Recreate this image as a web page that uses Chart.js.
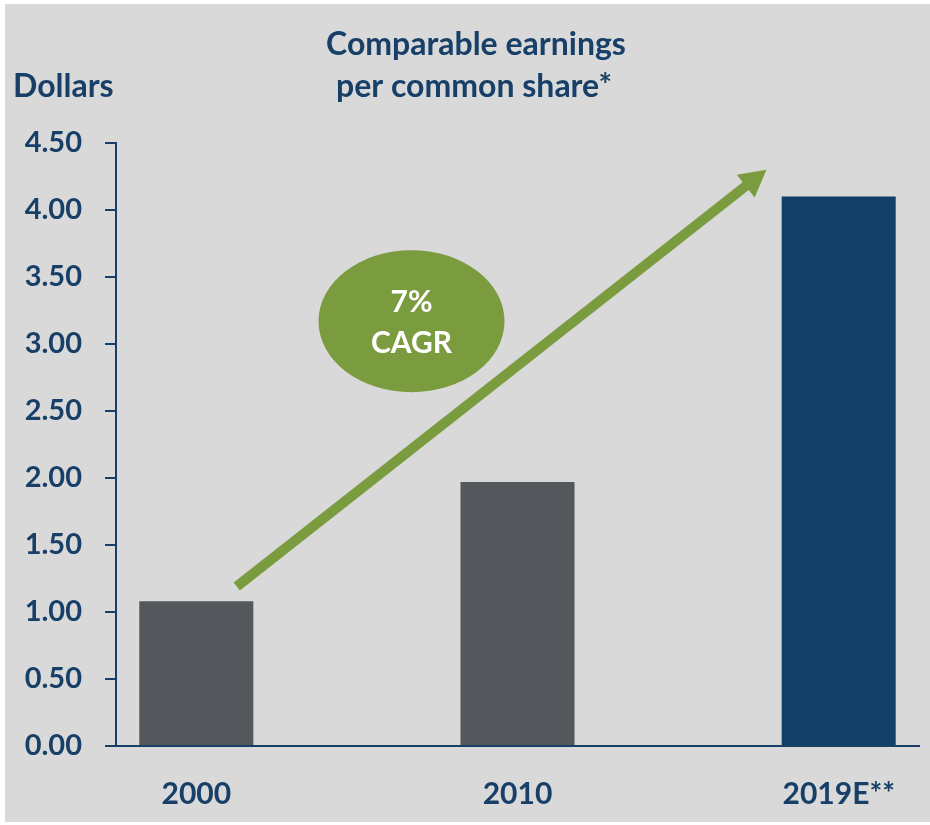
<!DOCTYPE html>
<html>
<head>
<meta charset="utf-8">
<script src="https://cdn.jsdelivr.net/npm/chart.js@4"></script>
<style>
  html, body { margin: 0; padding: 0; background: #fff; }
  canvas { display: block; }
</style>
</head>
<body>
<canvas id="myChart" width="930" height="825"></canvas>
<script>
const years = ['2000', '2010', '2019E**'];
const earnings = [1.08, 1.97, 4.10];
const barColors = ['#54575b', '#54575b', '#123f68'];
const yTicks = [0, 0.5, 1, 1.5, 2, 2.5, 3, 3.5, 4, 4.5];
const titleLines = ['Comparable earnings', 'per common share*'];
const unitLabel = 'Dollars';
const cagrLines = ['7%', 'CAGR'];

const navy = '#173f67';
const green = '#7a9c3e';
const font = 'Lato, "Open Sans", sans-serif';

// gray panel, headings, growth arrow and CAGR badge
const decor = {
  id: 'decor',
  beforeDraw(chart) {
    const c = chart.ctx;
    c.save();
    c.fillStyle = '#ffffff';
    c.fillRect(0, 0, chart.width, chart.height);
    c.fillStyle = '#d9d9d9';
    c.fillRect(5, 4, chart.width - 5, 818);
    c.fillStyle = navy;
    c.font = 'bold 32px ' + font;
    c.textAlign = 'center';
    c.textBaseline = 'middle';
    c.fillText(titleLines[0], 476, 45);
    c.fillText(titleLines[1], 474, 87);
    c.textAlign = 'left';
    c.fillText(unitLabel, 13, 87);
    c.restore();
  },
  afterDatasetsDraw(chart) {
    const c = chart.ctx;
    const x = chart.scales.x, y = chart.scales.y;
    const x0 = x.getPixelForValue(0.126), y0 = y.getPixelForValue(1.19);
    const x1 = x.getPixelForValue(1.775), y1 = y.getPixelForValue(4.30);
    const ang = Math.atan2(y1 - y0, x1 - x0);
    const head = 30;
    c.save();
    c.strokeStyle = green;
    c.fillStyle = green;
    c.lineWidth = 10;
    c.beginPath();
    c.moveTo(x0, y0);
    c.lineTo(x1 - Math.cos(ang) * head * 0.8, y1 - Math.sin(ang) * head * 0.8);
    c.stroke();
    c.beginPath();
    c.moveTo(x1, y1);
    c.lineTo(x1 - head * Math.cos(ang - 0.5), y1 - head * Math.sin(ang - 0.5));
    c.lineTo(x1 - head * Math.cos(ang + 0.5), y1 - head * Math.sin(ang + 0.5));
    c.closePath();
    c.fill();

    const cx = x.getPixelForValue(0.67), cy = y.getPixelForValue(3.17);
    c.beginPath();
    c.ellipse(cx, cy, 93, 71, 0, 0, Math.PI * 2);
    c.fill();
    c.fillStyle = '#ffffff';
    c.font = 'bold 30px ' + font;
    c.textAlign = 'center';
    c.textBaseline = 'middle';
    c.fillText(cagrLines[0], cx, cy - 19);
    c.fillText(cagrLines[1], cx, cy + 22);
    c.restore();
  }
};

const ctx = document.getElementById('myChart');
const config = {
  type: 'bar',
  data: {
    datasets: [{
      data: earnings.map((v, i) => ({ x: i, y: v })),
      backgroundColor: barColors,
      categoryPercentage: 1,
      barPercentage: 0.355
    }]
  },
  options: {
    responsive: false,
    animation: false,
    layout: { padding: { left: 0, top: 143, right: 11, bottom: 0 } },
    plugins: {
      legend: { display: false },
      tooltip: { enabled: false }
    },
    scales: {
      x: {
        type: 'linear',
        offset: false,
        min: -0.25,
        max: 2.25,
        afterBuildTicks: (s) => { s.ticks = years.map((_, i) => ({ value: i })); },
        afterFit: (s) => { s.height = 79; },
        grid: { display: true, offset: false, drawOnChartArea: false, drawTicks: false },
        border: { display: true, color: navy, width: 2 },
        ticks: {
          padding: 30,
          color: navy,
          font: { family: font, size: 30, weight: 'bold' },
          callback: (v) => years[v]
        }
      },
      y: {
        min: 0,
        max: 4.5,
        afterBuildTicks: (s) => { s.ticks = yTicks.map(v => ({ value: v })); },
        afterFit: (s) => { s.width = 116; },
        grid: { display: true, drawOnChartArea: false, tickLength: 11, color: navy, lineWidth: 2 },
        border: { display: true, color: navy, width: 2 },
        ticks: {
          padding: 23,
          color: navy,
          font: { family: font, size: 29, weight: 'bold' },
          callback: (v) => v.toFixed(2)
        }
      }
    }
  },
  plugins: [decor]
};

new Chart(ctx, config);
</script>
</body>
</html>
